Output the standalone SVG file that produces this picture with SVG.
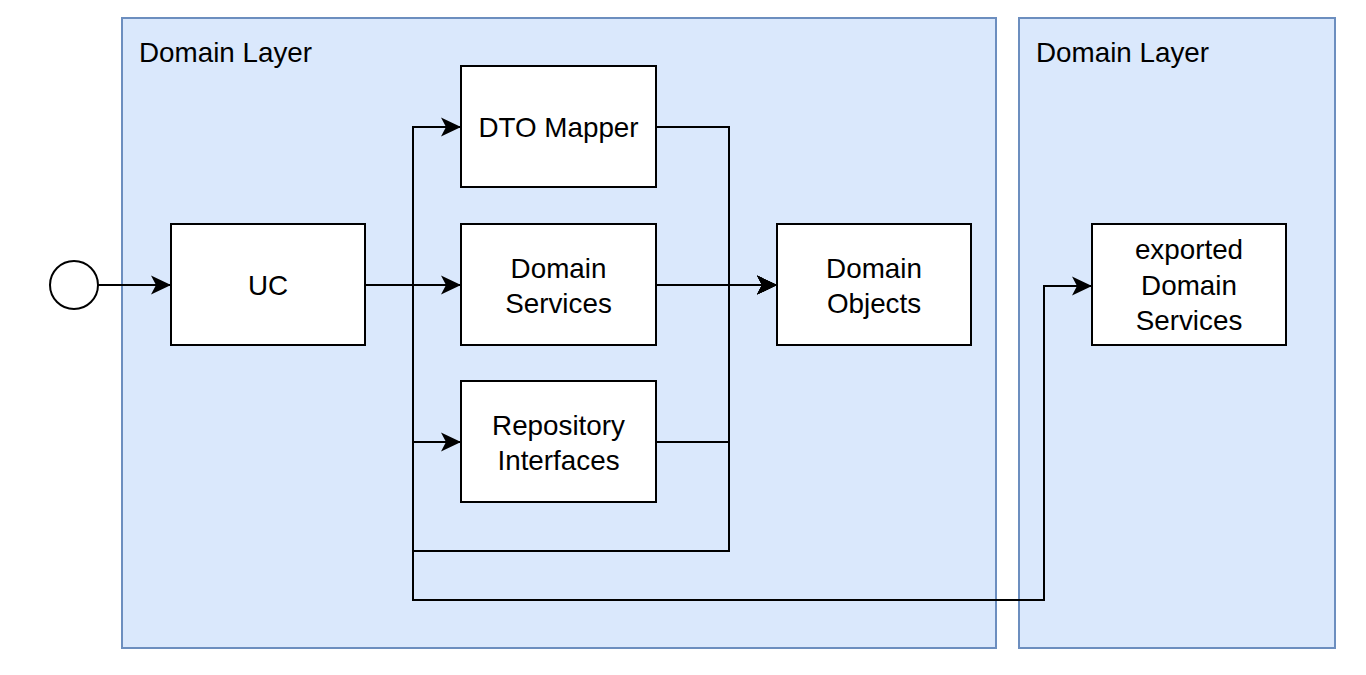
<svg xmlns="http://www.w3.org/2000/svg" width="1366" height="675" viewBox="0 0 1366 675">
<style>
.layer{fill:#dae8fc;stroke:#6c8ebf;stroke-width:2}
.box{fill:#ffffff;stroke:#000000;stroke-width:2}
.lbl{font-family:"Liberation Sans",Arial,sans-serif;font-size:27.8px;fill:#000000}
.mid{text-anchor:middle}
.edge{fill:none;stroke:#000000;stroke-width:2}
</style>
<defs>
<marker id="arr" viewBox="-21 -10 22 20" refX="0" refY="0" markerWidth="22" markerHeight="20" markerUnits="userSpaceOnUse" orient="auto">
<path d="M0,0 L-20,-9.5 L-15,0 L-20,9.5 Z" fill="#000000"/>
</marker>
</defs>
<rect width="1366" height="675" fill="#ffffff"/>
<g id="layer1">
<rect class="layer" x="122" y="18" width="874" height="630"/>
<text class="lbl" x="139" y="62">Domain Layer</text>
</g>
<g id="layer2">
<rect class="layer" x="1019" y="18" width="316" height="630"/>
<text class="lbl" x="1036" y="62">Domain Layer</text>
</g>
<g id="connectors">
<path class="edge" d="M98,285 L171,285" marker-end="url(#arr)"/>
<path class="edge" d="M365,285 L413,285 L413,127 L461,127" marker-end="url(#arr)"/>
<path class="edge" d="M365,285 L461,285" marker-end="url(#arr)"/>
<path class="edge" d="M413,285 L413,442 L461,442" marker-end="url(#arr)"/>
<path class="edge" d="M413,285 L413,551 L729,551 L729,285 L777,285" marker-end="url(#arr)"/>
<path class="edge" d="M656,127 L729,127 L729,285 L777,285" marker-end="url(#arr)"/>
<path class="edge" d="M656,285 L777,285" marker-end="url(#arr)"/>
<path class="edge" d="M656,442 L729,442 L729,285 L777,285" marker-end="url(#arr)"/>
<path class="edge" d="M413,285 L413,600 L1044,600 L1044,286 L1092,286" marker-end="url(#arr)"/>
</g>
<g id="start">
<circle cx="74" cy="285" r="24" fill="#ffffff" stroke="#000000" stroke-width="2"/>
</g>
<g id="uc">
<rect class="box" x="171" y="224" width="194" height="121"/>
<text class="lbl mid" x="268" y="295">UC</text>
</g>
<g id="dto-mapper">
<rect class="box" x="461" y="66" width="195" height="121"/>
<text class="lbl mid" x="558.5" y="137">DTO Mapper</text>
</g>
<g id="domain-services">
<rect class="box" x="461" y="224" width="195" height="121"/>
<text class="lbl mid" x="558.5" y="278">Domain</text>
<text class="lbl mid" x="558.5" y="313">Services</text>
</g>
<g id="repository-interfaces">
<rect class="box" x="461" y="381" width="195" height="121"/>
<text class="lbl mid" x="558.5" y="435">Repository</text>
<text class="lbl mid" x="558.5" y="470">Interfaces</text>
</g>
<g id="domain-objects">
<rect class="box" x="777" y="224" width="194" height="121"/>
<text class="lbl mid" x="874" y="278">Domain</text>
<text class="lbl mid" x="874" y="313">Objects</text>
</g>
<g id="exported-domain-services">
<rect class="box" x="1092" y="224" width="194" height="121"/>
<text class="lbl mid" x="1189" y="259">exported</text>
<text class="lbl mid" x="1189" y="295">Domain</text>
<text class="lbl mid" x="1189" y="330">Services</text>
</g>
</svg>
